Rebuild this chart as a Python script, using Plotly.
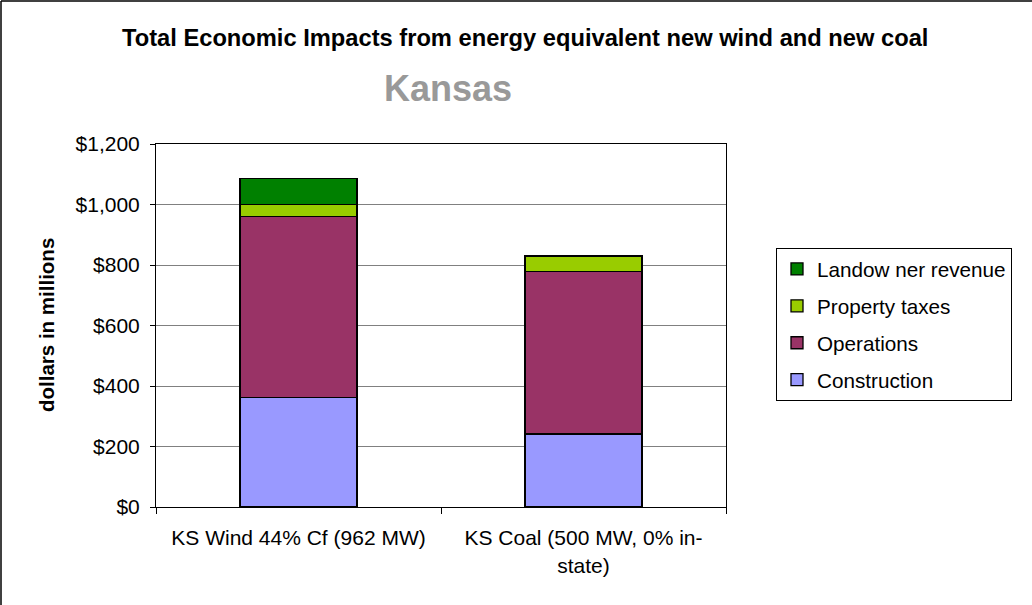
import plotly.graph_objects as go

# Energy-equivalent projects compared
categories = ["KS Wind 44% Cf (962 MW)", "KS Coal (500 MW, 0% in-<br>state)"]

# Economic impacts, millions of dollars
construction = [361, 241]
operations = [600, 537]
property_taxes = [39, 52]
landowner_revenue = [86, None]

series_names = ["Construction", "Operations", "Property taxes", "Landow ner revenue"]
series_values = [construction, operations, property_taxes, landowner_revenue]
series_colors = ["#9999FF", "#993366", "#99CC00", "#008000"]

y_ticks = [0, 200, 400, 600, 800, 1000, 1200]

FONT = "Liberation Sans, Arial, sans-serif"

fig = go.Figure()
n = len(series_names)
for i, (name, vals, color) in enumerate(zip(series_names, series_values, series_colors)):
    fig.add_trace(go.Bar(
        x=categories,
        y=vals,
        name=name,
        legendgroup=name,
        legendrank=n - i,  # top segment listed first
        marker=dict(color=color, line=dict(color="black", width=1.3)),
        width=0.41,
    ))

# plot area in pixels: x 156..726, y 144..507
W, H = 1032, 605
L, R, T, B = 156, 726, 144, 507


def px_x(px):
    return (px - L) / (R - L)


def px_y(py):
    return (B - py) / (B - T)


fig.update_layout(
    width=W,
    height=H,
    barmode="stack",
    paper_bgcolor="white",
    plot_bgcolor="white",
    margin=dict(l=L, r=W - R, t=T, b=H - B, autoexpand=False),
    font=dict(family=FONT, size=21, color="black"),
    showlegend=True,
    legend=dict(
        traceorder="grouped",
        tracegroupgap=7,
        x=px_x(776),
        y=px_y(248),
        xanchor="left",
        yanchor="top",
        bordercolor="black",
        borderwidth=1,
        bgcolor="white",
        font=dict(family=FONT, size=20.7, color="black"),
        itemwidth=30,
    ),
    xaxis=dict(
        type="category",
        showline=True,
        linecolor="black",
        linewidth=1,
        mirror=True,
        ticks="outside",
        tickson="boundaries",
        ticklen=6,
        tickcolor="black",
        showgrid=False,
        ticklabelstandoff=12,
        tickfont=dict(family=FONT, size=21, color="black"),
    ),
    yaxis=dict(
        range=[0, 1200],
        tickvals=y_ticks,
        ticktext=[f"${v:,}" for v in y_ticks],
        showline=True,
        linecolor="black",
        linewidth=1,
        mirror=True,
        ticks="outside",
        ticklen=5,
        tickcolor="black",
        showgrid=True,
        gridcolor="#808080",
        gridwidth=1,
        zeroline=False,
        ticklabelstandoff=6,
        tickfont=dict(family=FONT, size=21, color="black"),
    ),
    annotations=[
        dict(
            text="<b>Total Economic Impacts from energy equivalent new wind and new coal</b>",
            xref="paper", yref="paper",
            x=px_x(525), y=px_y(38),
            xanchor="center", yanchor="middle",
            showarrow=False,
            font=dict(family=FONT, size=23.7, color="black"),
        ),
        dict(
            text="<b>Kansas</b>",
            xref="paper", yref="paper",
            x=px_x(448), y=px_y(88),
            xanchor="center", yanchor="middle",
            showarrow=False,
            font=dict(family=FONT, size=36, color="#999999"),
        ),
        dict(
            text="<b>dollars in millions</b>",
            xref="paper", yref="paper",
            x=px_x(46), y=px_y(325),
            xanchor="center", yanchor="middle",
            textangle=-90,
            showarrow=False,
            font=dict(family=FONT, size=20.5, color="black"),
        ),
    ],
    shapes=[
        # chart frame along the left and top edges
        dict(type="line", xref="paper", yref="paper",
             x0=px_x(1), x1=px_x(1), y0=px_y(610), y1=px_y(1),
             line=dict(color="black", width=1.5)),
        dict(type="line", xref="paper", yref="paper",
             x0=px_x(1), x1=px_x(1040), y0=px_y(1), y1=px_y(1),
             line=dict(color="black", width=1.5)),
    ],
)

fig.write_html("out.html")
